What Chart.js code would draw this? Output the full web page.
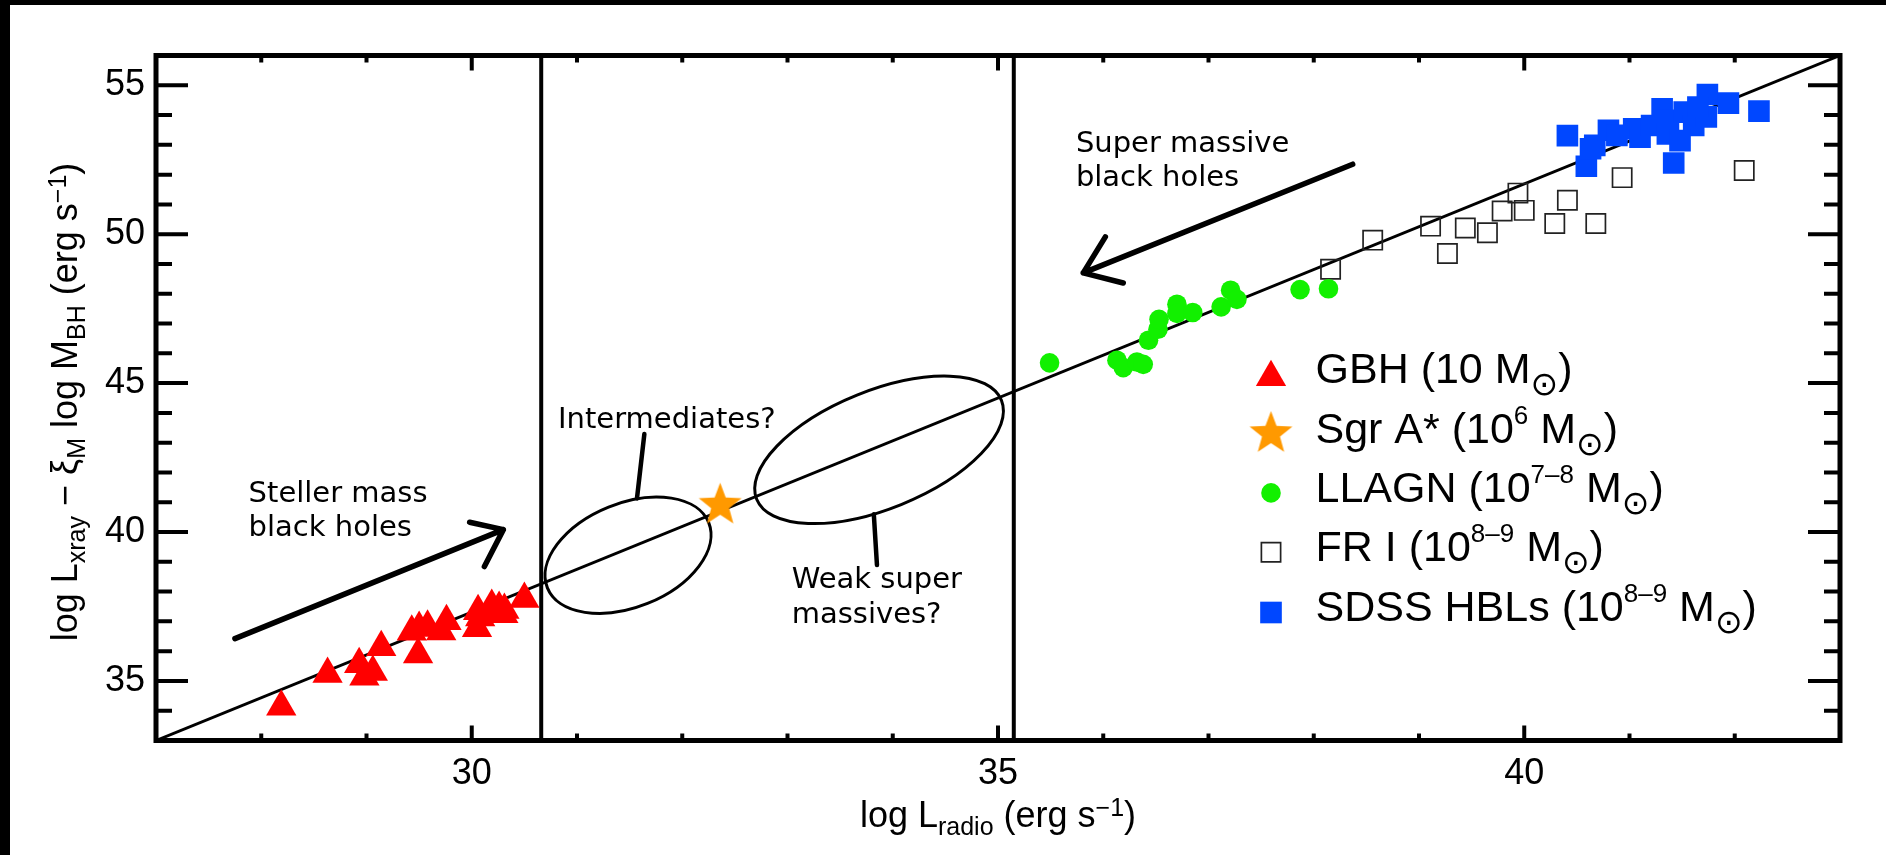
<!DOCTYPE html>
<html>
<head>
<meta charset="utf-8">
<script src="https://cdn.jsdelivr.net/npm/chart.js"></script>
<style>
  html, body { margin: 0; padding: 0; background: #fff; overflow: hidden; }
</style>
</head>
<body>
<canvas id="myChart" width="1886" height="855"></canvas>
<script>
// series values (log L_radio, log L_xray - xi log M)
const gbhX = [28.19, 28.63, 28.93, 28.98, 29.06, 29.14, 29.49, 29.43, 29.50, 29.58, 29.71, 29.76, 30.05, 30.06, 30.08, 30.19, 30.26, 30.30, 30.31, 30.50];
const gbhY = [34.13, 35.23, 35.56, 35.14, 35.30, 36.13, 35.89, 36.65, 36.78, 36.82, 36.66, 37.00, 36.77, 37.34, 37.13, 37.52, 37.45, 37.24, 37.38, 37.75];

const sgrX = [32.36];
const sgrY = [40.90];

const llagnX = [35.49, 36.13, 36.19, 36.32, 36.38, 36.43, 36.52, 36.53, 36.70, 36.70, 36.85, 37.12, 37.21, 37.27, 37.87, 38.14];
const llagnY = [45.68, 45.77, 45.52, 45.71, 45.63, 46.44, 46.81, 47.14, 47.65, 47.34, 47.37, 47.56, 48.12, 47.81, 48.14, 48.17];

const fr1X = [38.16, 38.56, 39.11, 39.27, 39.44, 39.65, 39.79, 39.94, 40.00, 40.29, 40.41, 40.68, 40.93, 42.09];
const fr1Y = [48.82, 49.80, 50.27, 49.35, 50.21, 50.05, 50.78, 51.38, 50.80, 50.36, 51.14, 50.36, 51.90, 52.14];

const hblX = [40.41, 40.59, 40.63, 40.67, 40.80, 40.88, 41.04, 41.10, 41.21, 41.31, 41.36, 41.42, 41.37, 41.52, 41.61, 41.74, 41.73, 41.94, 42.23, 41.48, 41.65];
const hblY = [53.31, 52.28, 52.87, 52.98, 53.49, 53.32, 53.54, 53.26, 53.65, 54.21, 53.37, 52.39, 53.82, 54.10, 53.65, 54.69, 53.94, 54.40, 54.13, 53.14, 54.27];

const fitX = [27, 43];
const fitY = [33, 56];
const boundaryX = [30.66, 35.15];

const seriesNames = ['GBH (10 M_{⊙})', 'Sgr A* (10^{6} M_{⊙})', 'LLAGN (10^{7–8} M_{⊙})', 'FR I (10^{8–9} M_{⊙})', 'SDSS HBLs (10^{8–9} M_{⊙})'];
const xTicks = [30, 35, 40];
const yTicks = [35, 40, 45, 50, 55];
const xTitle = 'log L_{radio} (erg s^{−1})';
const yTitle = 'log L_{xray} − ξ_{M} log M_{BH} (erg s^{−1})';

// annotations (data coordinates)
const notes = [
  { lines: ['Steller mass', 'black holes'], x: 27.88, y: 41.01 },
  { lines: ['Intermediates?'], x: 30.82, y: 43.48 },
  { lines: ['Weak super', 'massives?'], x: 33.04, y: 38.11 },
  { lines: ['Super massive', 'black holes'], x: 35.74, y: 52.76 }
];
const arrows = [
  { from: [27.75, 36.42], to: [30.30, 40.08], wings: [[29.98, 40.33], [30.12, 38.84]] },
  { from: [38.37, 52.35], to: [35.81, 48.70], wings: [[36.02, 49.91], [36.19, 48.36]] }
];
const pointers = [
  [[31.64, 43.29], [31.57, 41.13]],
  [[33.82, 40.60], [33.85, 38.89]]
];
const ellipses = [
  { x: 31.485, y: 39.22, a: 87, b: 52 },
  { x: 33.87, y: 42.76, a: 132, b: 59 }
];

const SANS = '"Liberation Sans", Arial, Helvetica, sans-serif';
const DEJA = '"DejaVu Sans", sans-serif';

function pts(xs, ys) {
  return xs.map((x, i) => ({ x: x, y: ys[i] }));
}

function starImage(R, color) {
  const c = document.createElement('canvas');
  const s = Math.ceil(2 * R + 4);
  c.width = s; c.height = s;
  const g = c.getContext('2d');
  g.translate(s / 2, s / 2);
  g.beginPath();
  for (let i = 0; i < 10; i++) {
    const r = i % 2 ? R * 0.42 : R;
    const a = -Math.PI / 2 + i * Math.PI / 5;
    g.lineTo(r * Math.cos(a), r * Math.sin(a));
  }
  g.closePath();
  g.fillStyle = color;
  g.fill();
  return c;
}
const star = starImage(22.5, '#ff9900');

// simple rich text: _{sub} and ^{sup}
function parseRich(str) {
  const out = [];
  const re = /([_^])\{([^}]*)\}/g;
  let last = 0, m;
  while ((m = re.exec(str))) {
    if (m.index > last) out.push({ t: str.slice(last, m.index), k: '' });
    out.push({ t: m[2], k: m[1] });
    last = re.lastIndex;
  }
  if (last < str.length) out.push({ t: str.slice(last), k: '' });
  return out;
}
function fontFor(k, st) {
  if (k === '_') return st.subSize + 'px ' + (st.subFamily || st.family);
  if (k === '^') return st.supSize + 'px ' + st.family;
  return st.size + 'px ' + st.family;
}
function drawRich(ctx, str, x, y, st, align) {
  const segs = parseRich(str);
  let w = 0;
  segs.forEach(s => { ctx.font = fontFor(s.k, st); s.w = ctx.measureText(s.t).width; w += s.w; });
  let cx = align === 'center' ? x - w / 2 : x;
  ctx.textAlign = 'left';
  ctx.textBaseline = 'alphabetic';
  segs.forEach(s => {
    ctx.font = fontFor(s.k, st);
    const dy = s.k === '_' ? st.sub : (s.k === '^' ? -st.sup : 0);
    ctx.fillText(s.t, cx, y + dy);
    cx += s.w;
  });
}

const titleStyle = { size: 36, subSize: 25, supSize: 25, sub: 8, sup: 11, family: SANS };
const legendStyle = { size: 43, subSize: 33, supSize: 26, sub: 12, sup: 19, family: SANS, subFamily: DEJA };

const decor = {
  id: 'decor',
  beforeDraw(chart) {
    const ctx = chart.ctx;
    ctx.save();
    ctx.fillStyle = '#fff';
    ctx.fillRect(0, 0, chart.width, chart.height);
    ctx.fillStyle = '#000';
    ctx.fillRect(0, 0, chart.width, 5);
    ctx.fillRect(0, 0, 10, chart.height);
    ctx.restore();
  },
  beforeDatasetsDraw(chart) {
    const { ctx, scales: { x, y } } = chart;
    const P = p => [x.getPixelForValue(p[0]), y.getPixelForValue(p[1])];
    ctx.save();
    ctx.strokeStyle = '#000';
    ctx.lineCap = 'round';
    ctx.lineJoin = 'round';

    ctx.lineWidth = 3;
    ellipses.forEach(e => {
      ctx.beginPath();
      ctx.ellipse(x.getPixelForValue(e.x), y.getPixelForValue(e.y), e.a, e.b, -22 * Math.PI / 180, 0, 2 * Math.PI);
      ctx.stroke();
    });

    ctx.lineWidth = 4.5;
    pointers.forEach(p => {
      const a = P(p[0]), b = P(p[1]);
      ctx.beginPath(); ctx.moveTo(a[0], a[1]); ctx.lineTo(b[0], b[1]); ctx.stroke();
    });

    ctx.lineWidth = 5.5;
    arrows.forEach(ar => {
      const f = P(ar.from), t = P(ar.to), w1 = P(ar.wings[0]), w2 = P(ar.wings[1]);
      ctx.beginPath();
      ctx.moveTo(f[0], f[1]); ctx.lineTo(t[0], t[1]);
      ctx.moveTo(w1[0], w1[1]); ctx.lineTo(t[0], t[1]); ctx.lineTo(w2[0], w2[1]);
      ctx.stroke();
    });

    ctx.fillStyle = '#000';
    ctx.font = '29px ' + DEJA;
    ctx.textAlign = 'left';
    ctx.textBaseline = 'alphabetic';
    notes.forEach(n => {
      const px = x.getPixelForValue(n.x), py = y.getPixelForValue(n.y);
      n.lines.forEach((l, i) => ctx.fillText(l, px, py + i * 34.5));
    });
    ctx.restore();
  },
  afterDraw(chart) {
    const { ctx, chartArea: a, scales: { x, y } } = chart;
    ctx.save();
    ctx.strokeStyle = '#000';
    ctx.lineCap = 'butt';
    ctx.lineWidth = 4;
    ctx.beginPath();
    for (let v = Math.ceil(x.min); v <= x.max; v++) {
      if (v === x.min || v === x.max) continue;
      const px = x.getPixelForValue(v), len = v % 5 === 0 ? 15 : 7;
      ctx.moveTo(px, a.bottom); ctx.lineTo(px, a.bottom - len);
      ctx.moveTo(px, a.top); ctx.lineTo(px, a.top + len);
    }
    for (let v = Math.ceil(y.min); v <= y.max; v++) {
      if (v === y.min || v === y.max) continue;
      const py = y.getPixelForValue(v), len = v % 5 === 0 ? 32 : 16;
      ctx.moveTo(a.left, py); ctx.lineTo(a.left + len, py);
      ctx.moveTo(a.right, py); ctx.lineTo(a.right - len, py);
    }
    ctx.stroke();
    ctx.lineWidth = 5;
    ctx.lineJoin = 'miter';
    ctx.strokeRect(a.left, a.top, a.right - a.left, a.bottom - a.top);

    // axis titles
    ctx.fillStyle = '#000';
    drawRich(ctx, xTitle, (a.left + a.right) / 2, 827, titleStyle, 'center');
    ctx.save();
    ctx.translate(77, 402);
    ctx.rotate(-Math.PI / 2);
    drawRich(ctx, yTitle, 0, 0, titleStyle, 'center');
    ctx.restore();

    // legend
    const markerDy = [-6, -9, -9, -9, -8];
    chart.data.datasets.slice(0, 5).forEach((ds, i) => {
      const base = 383.3 + i * 59.3;
      ctx.save();
      ctx.fillStyle = ds.backgroundColor;
      ctx.strokeStyle = ds.borderColor || ds.backgroundColor;
      ctx.lineWidth = ds.borderWidth || 0;
      Chart.helpers.drawPoint(ctx, {
        pointStyle: ds.pointStyle, radius: ds.pointRadius, rotation: 0, borderWidth: ds.borderWidth || 0
      }, 1271, base + markerDy[i]);
      ctx.restore();
      ctx.fillStyle = '#000';
      drawRich(ctx, ds.label, 1315.5, base, legendStyle, 'left');
    });
    ctx.restore();
  }
};

const ctx = document.getElementById('myChart');

new Chart(ctx, {
  type: 'scatter',
  data: {
    datasets: [
      { label: seriesNames[0], data: pts(gbhX, gbhY), pointStyle: 'triangle', pointRadius: 17.5, backgroundColor: '#ff0000', borderWidth: 0, order: 1 },
      { label: seriesNames[1], data: pts(sgrX, sgrY), pointStyle: star, pointRadius: 22, backgroundColor: '#ff9900', borderWidth: 0, order: 1 },
      { label: seriesNames[2], data: pts(llagnX, llagnY), pointStyle: 'circle', pointRadius: 9.8, backgroundColor: '#12f000', borderWidth: 0, order: 1 },
      { label: seriesNames[3], data: pts(fr1X, fr1Y), pointStyle: 'rect', pointRadius: 13.6, backgroundColor: 'rgba(255,255,255,0)', borderColor: '#222', borderWidth: 1.7, order: 1 },
      { label: seriesNames[4], data: pts(hblX, hblY), pointStyle: 'rect', pointRadius: 15.3, backgroundColor: '#0047ff', borderWidth: 0, order: 1 },
      { type: 'line', data: pts(fitX, fitY), borderColor: '#000', borderWidth: 3, pointRadius: 0, order: 5 },
      { type: 'line', data: pts([boundaryX[0], boundaryX[0]], fitY), borderColor: '#000', borderWidth: 4, pointRadius: 0, order: 5 },
      { type: 'line', data: pts([boundaryX[1], boundaryX[1]], fitY), borderColor: '#000', borderWidth: 4, pointRadius: 0, order: 5 }
    ]
  },
  options: {
    responsive: false,
    animation: false,
    events: [],
    layout: { padding: { top: 55.5, right: 46, left: 0, bottom: 0 } },
    plugins: { legend: { display: false }, tooltip: { enabled: false } },
    scales: {
      x: {
        type: 'linear', min: 27, max: 43,
        grid: { display: false, drawTicks: false },
        border: { display: false },
        afterBuildTicks: s => { s.ticks = xTicks.map(v => ({ value: v })); },
        afterFit: s => { s.height = 114.5; },
        ticks: { color: '#000', padding: 12, font: { family: SANS, size: 36 }, maxRotation: 0 }
      },
      y: {
        type: 'linear', min: 33, max: 56,
        grid: { display: false, drawTicks: false },
        border: { display: false },
        afterBuildTicks: s => { s.ticks = yTicks.map(v => ({ value: v })); },
        afterFit: s => { s.width = 156; },
        ticks: { color: '#000', padding: 11, font: { family: SANS, size: 36 } }
      }
    }
  },
  plugins: [decor]
});
</script>
</body>
</html>
